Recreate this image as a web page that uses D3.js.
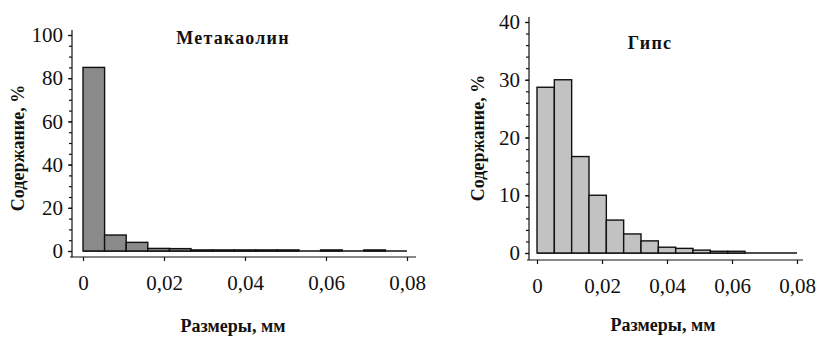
<!DOCTYPE html>
<meta charset="utf-8">
<title>Гранулометрия</title>
<style>
body { margin: 0; background: #fff; }
svg { display: block; }
svg text { font-family: "Liberation Serif", "Times New Roman", Times, "DejaVu Serif", serif !important; fill: #111; }
.title { font-size: 18px; font-weight: bold; text-anchor: middle; letter-spacing: 1.2px; }
.axlabel { font-size: 18px; font-weight: bold; text-anchor: middle; }
</style>
<svg width="818" height="340"></svg>
<script src="https://d3js.org/d3.v7.min.js"></script>
<script>

// data: 15 equal bins between 0 and 0.08 mm
var binEdgesMax = 0.08;
var binCount = 15;
var metakaolinValues = [85, 7.4, 4.0, 1.2, 1.1, 0.5, 0.5, 0.5, 0.5, 0.5, 0, 0.5, 0, 0.5, 0];
var gypsumValues = [28.7, 30.0, 16.7, 10.0, 5.7, 3.3, 2.1, 1.0, 0.8, 0.5, 0.3, 0.3, 0, 0, 0];
var xTicks = [0, 0.02, 0.04, 0.06, 0.08];
var xTickLabels = ["0", "0,02", "0,04", "0,06", "0,08"];
var metakaolinYTicks = [0, 20, 40, 60, 80, 100];
var gypsumYTicks = [0, 10, 20, 30, 40];

var svg = d3.select("svg");

var charts = [
  { title: "Метакаолин", values: metakaolinValues, yMax: 100, yTicks: metakaolinYTicks, minorStep: 5,
    fill: "#8a8a8a", x0: 83, x1: 407, y0: 251, y1: 35, axisX: 72, axisY: 257, axisEnd: 416,
    titleX: 233, titleY: 44, ylabX: 24, ylabY: 148, xlabX: 233, xlabY: 332 },
  { title: "Гипс", values: gypsumValues, yMax: 40, yTicks: gypsumYTicks, minorStep: 2,
    fill: "#c2c2c2", x0: 537, x1: 797, y0: 253, y1: 22, axisX: 529, axisY: 260, axisEnd: 803,
    titleX: 650, titleY: 49, ylabX: 484, ylabY: 138, xlabX: 663, xlabY: 331 }
];

charts.forEach(function(c) {
  var x = d3.scaleLinear().domain([0, binEdgesMax]).range([c.x0, c.x1]);
  var y = d3.scaleLinear().domain([0, c.yMax]).range([c.y0, c.y1]);
  var w = binEdgesMax / binCount;
  var g = svg.append("g");

  // baseline under the bars (zero bins show only this line)
  g.append("line")
      .attr("x1", x(0)).attr("x2", x(binEdgesMax))
      .attr("y1", y(0)).attr("y2", y(0))
      .style("stroke", "#111").style("stroke-width", 1.4);

  // bars
  g.selectAll("rect.bar")
    .data(c.values)
    .enter().append("rect")
      .attr("class", "bar")
      .attr("x", function(d, i) { return x(i * w); })
      .attr("width", function(d, i) { return x((i + 1) * w) - x(i * w); })
      .attr("y", function(d) { return y(d); })
      .attr("height", function(d) { return y(0) - y(d); })
      .style("display", function(d) { return d > 0 ? null : "none"; })
      .style("fill", c.fill)
      .style("stroke", "#111")
      .style("stroke-width", 1.4);

  // y axis
  var minor = d3.range(0, c.yMax + 0.001, c.minorStep);
  g.append("g")
      .attr("transform", "translate(" + c.axisX + ",0)")
      .call(d3.axisLeft(y).tickValues(minor).tickSize(3).tickFormat(""))
      .call(function(a) { a.select(".domain").remove(); });
  var ya = g.append("g")
      .attr("transform", "translate(" + c.axisX + ",0)")
      .call(d3.axisLeft(y).tickValues(c.yTicks).tickSize(4).tickPadding(5).tickFormat(d3.format("d")));
  ya.select(".domain").remove();
  g.append("line")
      .attr("x1", c.axisX).attr("x2", c.axisX)
      .attr("y1", y(c.yMax) - 5).attr("y2", c.axisY)
      .style("stroke", "#111").style("stroke-width", 1.2);

  // x axis
  var xa = g.append("g")
      .attr("transform", "translate(0," + c.axisY + ")")
      .call(d3.axisBottom(x).tickValues(xTicks).tickSize(4).tickPadding(14)
        .tickFormat(function(d, i) { return xTickLabels[i]; }));
  xa.select(".domain").remove();
  g.append("line")
      .attr("x1", c.axisX - 2).attr("x2", c.axisEnd)
      .attr("y1", c.axisY).attr("y2", c.axisY)
      .style("stroke", "#111").style("stroke-width", 1.2);
  g.selectAll(".tick line").style("stroke", "#111").style("stroke-width", 1.2);
  g.selectAll(".tick text").style("font-size", "21px");

  // labels
  g.append("text").attr("class", "title")
      .attr("x", c.titleX).attr("y", c.titleY).text(c.title);
  g.append("text").attr("class", "axlabel")
      .attr("transform", "translate(" + c.ylabX + "," + c.ylabY + ") rotate(-90)")
      .text("Содержание, %");
  g.append("text").attr("class", "axlabel")
      .attr("x", c.xlabX).attr("y", c.xlabY).text("Размеры, мм");
});
</script>
